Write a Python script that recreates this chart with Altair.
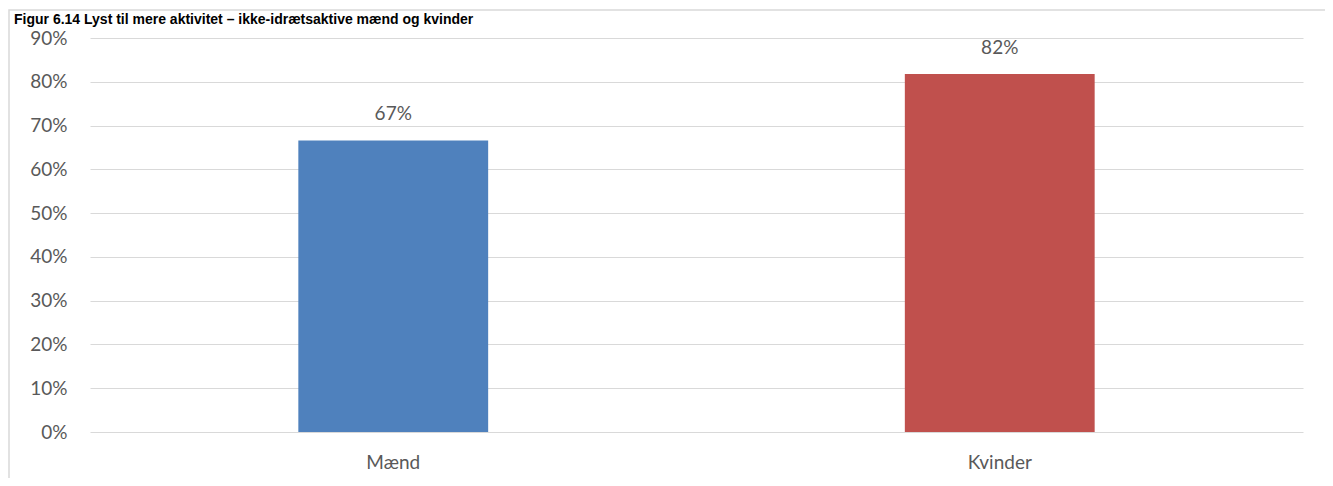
import altair as alt
import pandas as pd

categories = ["Mænd", "Kvinder"]
values = [0.666, 0.818]
colors = ["#4f81bd", "#c0504d"]
y_ticks = [0, 0.1, 0.2, 0.3, 0.4, 0.5, 0.6, 0.7, 0.8, 0.9]
title_text = "Figur 6.14 Lyst til mere aktivitet – ikke-idrætsaktive mænd og kvinder"

df = pd.DataFrame({"kategori": categories, "andel": values, "farve": colors})

FONT = "Lato"
TXT = "#595959"
FS = 19

x_enc = alt.X(
    "kategori:N",
    sort=categories,
    title=None,
    scale=alt.Scale(paddingInner=0.687, paddingOuter=0.3435),
    axis=alt.Axis(labelAngle=0, domain=False, ticks=False, grid=False,
                  labelFont=FONT, labelFontSize=FS, labelColor=TXT, labelPadding=21),
)
y_enc = alt.Y(
    "andel:Q",
    title=None,
    scale=alt.Scale(domain=[0, 0.9], nice=False),
    axis=alt.Axis(values=y_ticks, format=".0%", domain=False, ticks=False,
                  grid=True, gridColor="#d9d9d9", gridWidth=1,
                  labelFont=FONT, labelFontSize=FS, labelColor=TXT, labelPadding=23),
)

base = alt.Chart(df)

bars = base.mark_bar().encode(
    x=x_enc,
    y=y_enc,
    color=alt.Color("farve:N", scale=None, legend=None),
)

labels = base.mark_text(font=FONT, fontSize=FS, color=TXT, baseline="alphabetic", dy=-20).encode(
    x=alt.X("kategori:N", sort=categories),
    y=alt.Y("andel:Q"),
    text=alt.Text("andel:Q", format=".0%"),
)

one = alt.Chart(pd.DataFrame({"a": [0]}))

frame = one.mark_rect(fillOpacity=0, stroke="#d9d9d9", strokeWidth=1.5).encode(
    x=alt.value(-81), x2=alt.value(1241), y=alt.value(-28), y2=alt.value(470)
)

title = one.mark_text(font="Liberation Sans", fontWeight="bold", fontSize=14,
                      color="#000000", align="left", baseline="alphabetic").encode(
    x=alt.value(-76), y=alt.value(-14), text=alt.value(title_text)
)

chart = alt.layer(frame, bars, labels, title).properties(
    width=1213,
    height=394,
    padding={"left": 82, "top": 30, "right": 22, "bottom": 46},
    autosize=alt.AutoSizeParams(type="none"),
).configure(background="#ffffff").configure_view(strokeWidth=0, strokeOpacity=0)

chart.save("out.html", embed_options={"renderer": "svg", "actions": False})
